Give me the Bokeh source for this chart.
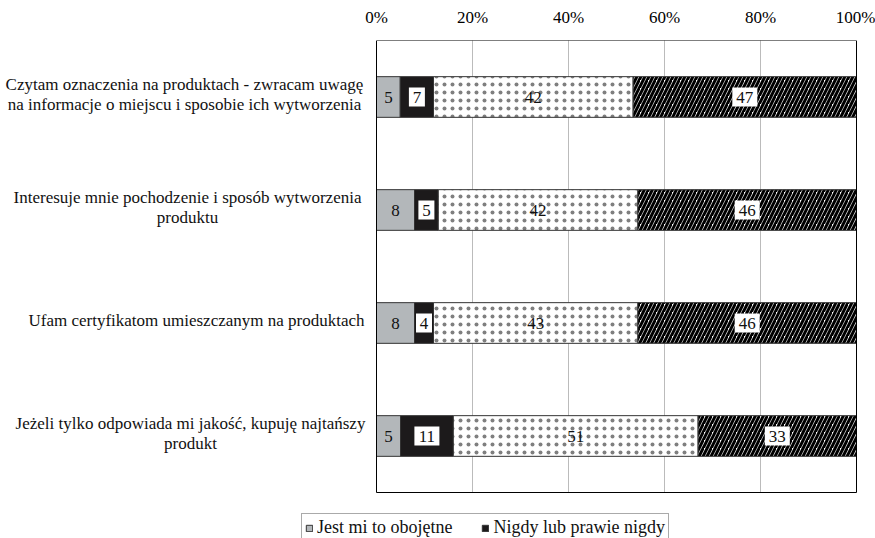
from bokeh.plotting import figure
from bokeh.models import (Range1d, FixedTicker, PrintfTickFormatter, ColumnDataSource,
                          Legend, LegendItem)
from bokeh.core.properties import value
from bokeh.embed import file_html
from bokeh.resources import INLINE

# ---- data ----
categories = [
    "Czytam oznaczenia na produktach - zwracam uwagę\nna informacje o miejscu i sposobie ich wytworzenia",
    "Interesuje mnie pochodzenie i sposób wytworzenia\nproduktu",
    "Ufam certyfikatom umieszczanym na produktach",
    "Jeżeli tylko odpowiada mi jakość, kupuję najtańszy\nprodukt",
]
series_names = ["Jest mi to obojętne", "Nigdy lub prawie nigdy", "Seria 3", "Seria 4"]
obojetne = [5, 8, 8, 5]
nigdy = [7, 5, 4, 11]
seria3 = [42, 42, 43, 51]
seria4 = [47, 46, 46, 33]
tick_values = [0, 20, 40, 60, 80, 100]

series = [obojetne, nigdy, seria3, seria4]
n = len(categories)
totals = [sum(s[i] for s in series) for i in range(n)]

FONT = "Liberation Serif"
W, H = 875, 538
BOX_L, BOX_R, BOX_T, BOX_B = 376, 856, 40, 492          # plot box in pixels
pxu_x = (BOX_R - BOX_L) / (tick_values[-1] - tick_values[0])
pxu_y = (BOX_B - BOX_T) / n
x_lo = tick_values[0] - BOX_L / pxu_x
x_hi = tick_values[-1] + (W - BOX_R) / pxu_x
y_bottom = (n - 0.5) + (H - BOX_B) / pxu_y

p = figure(width=W, height=H, x_range=Range1d(x_lo, x_hi), y_range=Range1d(y_bottom, -0.5),
           x_axis_location="above", y_axis_location=None,
           output_backend="svg", toolbar_location=None,
           min_border_left=0, min_border_right=0, min_border_top=BOX_T, min_border_bottom=0)

p.outline_line_color = None
p.background_fill_color = "white"
p.border_fill_color = "white"
p.xgrid.visible = False
p.ygrid.visible = False

ax = p.xaxis[0]
ax.ticker = FixedTicker(ticks=tick_values)
ax.formatter = PrintfTickFormatter(format="%d%%")
ax.axis_line_color = None
ax.major_tick_line_color = None
ax.minor_tick_line_color = None
ax.major_label_standoff = 8
ax.major_label_text_font = FONT
ax.major_label_text_font_size = "17px"
ax.major_label_text_color = "black"

# dotted vertical gridlines inside the box
inner = tick_values[1:-1]
p.segment(x0=inner, x1=inner, y0=[-0.5] * len(inner), y1=[n - 0.5] * len(inner),
          line_color="#777777", line_dash="1 1", line_width=1)

styles = [
    dict(fill_color="#b3b7ba"),
    dict(fill_color="#1c1a1b"),
    dict(fill_color="white", hatch_pattern="dot", hatch_color="black", hatch_scale=8,
         hatch_weight=0.3, hatch_alpha=0.5),
    dict(fill_color="white", hatch_pattern="right_diagonal_line", hatch_color="black",
         hatch_scale=8, hatch_weight=3.0),
]
label_bg = [False, True, False, True]

renderers = []
cum = [0.0] * n
for s, st, bg in zip(series, styles, label_bg):
    left = [cum[i] / totals[i] * 100 for i in range(n)]
    right = [(cum[i] + s[i]) / totals[i] * 100 for i in range(n)]
    cum = [cum[i] + s[i] for i in range(n)]
    txt = [str(v) for v in s]
    src = ColumnDataSource(dict(y=list(range(n)), left=left, right=right,
                                mid=[(a + b) / 2 for a, b in zip(left, right)],
                                txt=txt, bw=[9 * len(t) + 7 for t in txt]))
    r = p.hbar(y="y", left="left", right="right", height=0.36, source=src,
               line_color="#333333", line_width=1, **st)
    renderers.append(r)
    if bg:
        p.rect(x="mid", y="y", width="bw", height=19, width_units="screen", height_units="screen",
               source=src, fill_color="white", line_color=None)
    p.text(x="mid", y="y", text="txt", source=src, text_align="center",
           text_baseline="middle", text_font=value(FONT), text_font_size="17px",
           text_color="#111111")

# plot box outline
p.quad(left=[tick_values[0]], right=[tick_values[-1]], top=[-0.5], bottom=[n - 0.5],
       fill_color=None, line_color="black", line_width=1)

# category labels (lines centred within each label block)
centers_px = [184, 187, 196, 190]
lx, ly, lt, lo = [], [], [], []
for i, (cat, cpx) in enumerate(zip(categories, centers_px)):
    parts = cat.split("\n")
    k = len(parts)
    for j, line in enumerate(parts):
        lx.append(tick_values[0] + (cpx - BOX_L) / pxu_x)
        ly.append(i)
        lt.append(line)
        lo.append(-(((k - 1) / 2 - j) * 20 + 3))
cat_src = ColumnDataSource(dict(x=lx, y=ly, t=lt, o=lo))
p.text(x="x", y="y", text="t", y_offset="o", source=cat_src, text_align="center",
       text_baseline="middle", text_font=value(FONT), text_font_size="17px",
       text_color="#111111")

legend = Legend(items=[LegendItem(label=series_names[0], renderers=[renderers[0]]),
                       LegendItem(label=series_names[1], renderers=[renderers[1]])],
                orientation="horizontal", location=(301, -4),
                label_text_font=FONT, label_text_font_size="18px", label_height=16,
                label_text_color="#111111",
                glyph_width=8, glyph_height=8, label_standoff=4, spacing=29,
                padding=3, margin=0, border_line_color="#555555", border_line_width=1)
p.add_layout(legend)

open("out.html", "w").write(file_html(p, INLINE))
